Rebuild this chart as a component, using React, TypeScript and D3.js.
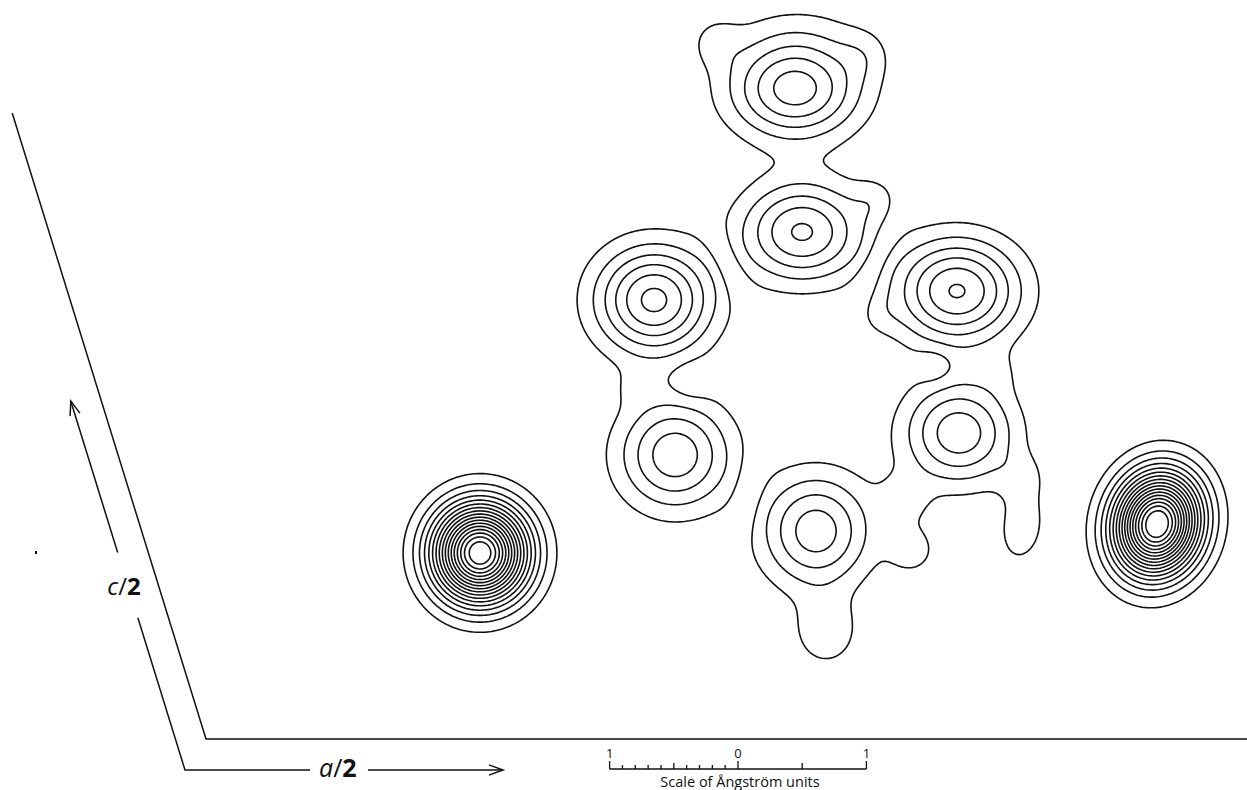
import React, { useMemo } from "react";
import * as d3 from "d3";

const WIDTH = 1247;
const HEIGHT = 790;

// ---------- DATA: electron-density peaks of the projection (Ångström, origin at the axis corner) ----------
const peakNames = [
  "heavy-left", "heavy-right", "top", "upper-middle", "ring-left-upper", "ring-left-lower",
  "ring-right-upper", "ring-right-lower", "ring-bottom",
  "lobe-top-left", "lobe-top", "lobe-top-right", "lobe-upper-right", "lobe-ring-right",
  "tail-1", "tail-2", "protrusion-bottom", "lobe-a", "lobe-b", "neck-left", "neck-right",
  "trough-left-neck", "trough-a", "trough-b", "trough-c", "trough-d",
];
const peakX = [2.134, 7.407, 4.587, 4.642, 3.489, 3.653, 5.849, 5.864, 4.751,
  3.964, 4.626, 5.132, 5.210, 5.249, 6.355, 6.355, 4.829, 5.444, 5.498, 3.318, 6.184,
  3.769, 4.065, 5.210, 4.221, 5.678];
const peakY = [1.449, 1.674, 5.062, 3.949, 3.419, 2.212, 3.489, 2.383, 1.620,
  5.428, 5.522, 5.327, 4.198, 3.302, 2.033, 1.643, 0.833, 1.861, 1.472, 2.734, 2.858,
  2.780, 3.692, 3.715, 1.900, 2.905];
const peakHeight = [18, 18.3, 5.55, 5.15, 6.3, 4.7, 6.1, 4.7, 4.6,
  1.0, 0.6, 0.8, 1.0, 0.6, 1.0, 1.7, 1.8, 1.2, 1.5, 0.5, 0.5,
  -0.7, -1.0, -1.0, -0.9, -0.8];
const peakSigmaX = [0.249, 0.226, 0.350, 0.327, 0.312, 0.304, 0.335, 0.296, 0.296,
  0.140, 0.428, 0.140, 0.125, 0.117, 0.132, 0.125, 0.171, 0.140, 0.132, 0.109, 0.125,
  0.117, 0.296, 0.312, 0.312, 0.101];
const peakSigmaY = [0.257, 0.273, 0.265, 0.265, 0.288, 0.296, 0.280, 0.273, 0.304,
  0.140, 0.195, 0.140, 0.125, 0.117, 0.132, 0.202, 0.187, 0.140, 0.132, 0.109, 0.125,
  0.117, 0.070, 0.070, 0.070, 0.101];
const peakTilt = [0, -14, 0, 0, 0, 0, 0, 0, 0,
  0, 0, 0, 0, 0, 0, -10, 0, 0, 0, 0, 0,
  0, -65, 65, 76, 0];

const contourLevels = [1, 2, 3, 4, 5, 6, 7, 8, 9, 10, 11, 12, 13, 14, 15, 16, 17];

// scale of Ångström units
const scaleLabels = [-1, 0, 1];
const scaleTicks = [-1, -0.9, -0.8, -0.7, -0.6, -0.5, -0.4, -0.3, -0.2, -0.1, 0, 0.5, 1];

// cell (half axes)
const A_HALF = 8.4; // Å (runs off the page)
const C_HALF = 5.104; // Å
const BETA = 107.2; // degrees

// ---------- layout ----------
const PX_PER_A = 128.4;
const ORIGIN_PX = [206, 739];
const xScale = d3.scaleLinear().domain([0, 1]).range([ORIGIN_PX[0], ORIGIN_PX[0] + PX_PER_A]);
const yScale = d3.scaleLinear().domain([0, 1]).range([ORIGIN_PX[1], ORIGIN_PX[1] - PX_PER_A]);
const GRID = { x0: 1.3, x1: 8.5, y0: 0.25, y1: 5.95, step: 0.015 };

function computeContours(): string[] {
  const nx = Math.round((GRID.x1 - GRID.x0) / GRID.step);
  const ny = Math.round((GRID.y1 - GRID.y0) / GRID.step);
  const values = new Float64Array(nx * ny);
  const n = peakX.length;
  for (let p = 0; p < n; p++) {
    const t = (peakTilt[p] * Math.PI) / 180;
    const c = Math.cos(t), s = Math.sin(t);
    const sx = peakSigmaX[p], sy = peakSigmaY[p];
    const reach = 6 * Math.max(sx, sy);
    const iMin = Math.max(0, Math.floor((peakX[p] - reach - GRID.x0) / GRID.step));
    const iMax = Math.min(nx - 1, Math.ceil((peakX[p] + reach - GRID.x0) / GRID.step));
    const jMin = Math.max(0, Math.floor((GRID.y1 - peakY[p] - reach) / GRID.step));
    const jMax = Math.min(ny - 1, Math.ceil((GRID.y1 - peakY[p] + reach) / GRID.step));
    for (let j = jMin; j <= jMax; j++) {
      const Y = GRID.y1 - (j + 0.5) * GRID.step;
      const dy = Y - peakY[p];
      for (let i = iMin; i <= iMax; i++) {
        const X = GRID.x0 + (i + 0.5) * GRID.step;
        const dx = X - peakX[p];
        const u = (dx * c + dy * s) / sx;
        const v = (-dx * s + dy * c) / sy;
        values[j * nx + i] += peakHeight[p] * Math.exp(-0.5 * (u * u + v * v));
      }
    }
  }
  const contours = d3.contours().size([nx, ny]).thresholds(contourLevels)(values as any);
  const projection = d3
    .geoIdentity()
    .scale(GRID.step * PX_PER_A)
    .translate([xScale(GRID.x0), yScale(GRID.y1)]);
  const path = d3.geoPath(projection as any);
  return contours.map((c) => path(c as any) || "");
}

function toPx(p: [number, number]): [number, number] {
  return [xScale(p[0]), yScale(p[1])];
}

function arrowHead(tip: [number, number], dir: [number, number], len = 15, ang = 20) {
  const back = Math.atan2(-dir[1], -dir[0]);
  const a = (ang * Math.PI) / 180;
  const p1 = [tip[0] + len * Math.cos(back + a), tip[1] + len * Math.sin(back + a)];
  const p2 = [tip[0] + len * Math.cos(back - a), tip[1] + len * Math.sin(back - a)];
  return `M${p1[0]},${p1[1]}L${tip[0]},${tip[1]}L${p2[0]},${p2[1]}`;
}

export default function App() {
  const paths = useMemo(() => computeContours(), []);

  const b = (BETA * Math.PI) / 180;
  const cu: [number, number] = [Math.cos(b), Math.sin(b)];
  const origin = toPx([0, 0]);
  const aEnd = toPx([A_HALF, 0]);
  const cEnd = toPx([C_HALF * cu[0], C_HALF * cu[1]]);

  const oc: [number, number] = [-0.1636, -0.2414];
  const alongC = (t: number) => toPx([oc[0] + t * cu[0], oc[1] + t * cu[1]]);
  const alongA = (t: number) => toPx([oc[0] + t, oc[1]]);
  const outerCorner = toPx(oc);
  const cSeg1 = alongC(1.241);
  const cArrowStart = alongC(1.773);
  const cArrowTip = alongC(3.007);
  const aSeg1 = alongA(0.974);
  const aArrowStart = alongA(1.425);
  const aArrowTip = alongA(2.477);
  const cDirPx: [number, number] = [cu[0], -cu[1]];
  const cLabel = alongC(1.5);
  const aLabel = alongA(1.19);

  const sb = d3.scaleLinear().domain([-1, 1]).range([738 - PX_PER_A, 738 + PX_PER_A]);
  const sbY = 769;
  const tickLen = (v: number) => (Math.abs(v) === 1 || v === 0 ? 8 : Math.abs(v) === 0.5 ? 6 : 4);

  return (
    <svg
      width={WIDTH}
      height={HEIGHT}
      style={{ position: "absolute", left: 0, top: 0, background: "#fff" }}
      fontFamily="'Open Sans', 'DejaVu Sans', sans-serif"
    >
      <rect width={WIDTH} height={HEIGHT} fill="#fff" />
      <g fill="none" stroke="#111" strokeWidth={1.6} strokeLinejoin="round">
        {paths.map((d, i) => (
          <path key={i} d={d} />
        ))}
      </g>

      <g fill="none" stroke="#111" strokeWidth={1.5}>
        <path d={`M${cEnd[0]},${cEnd[1]}L${origin[0]},${origin[1]}L${aEnd[0]},${aEnd[1]}`} />
        <path d={`M${cSeg1[0]},${cSeg1[1]}L${outerCorner[0]},${outerCorner[1]}L${aSeg1[0]},${aSeg1[1]}`} />
        <path d={`M${cArrowStart[0]},${cArrowStart[1]}L${cArrowTip[0]},${cArrowTip[1]}`} />
        <path d={arrowHead(cArrowTip, cDirPx)} />
        <path d={`M${aArrowStart[0]},${aArrowStart[1]}L${aArrowTip[0]},${aArrowTip[1]}`} />
        <path d={arrowHead(aArrowTip, [1, 0])} />
      </g>
      <text x={cLabel[0] - 4} y={cLabel[1] + 9} fontSize={24} textAnchor="middle" fill="#111">
        <tspan fontStyle="italic">c</tspan>
        <tspan>/</tspan>
        <tspan fontWeight="bold">2</tspan>
      </text>
      <text x={aLabel[0]} y={aLabel[1] + 7} fontSize={25} textAnchor="middle" fill="#111">
        <tspan fontStyle="italic">a</tspan>
        <tspan>/</tspan>
        <tspan fontWeight="bold">2</tspan>
      </text>
      <rect x={35} y={551} width={2} height={3} fill="#111" />

      <g stroke="#111" strokeWidth={1.3} fill="none">
        <line x1={sb(-1)} x2={sb(1)} y1={sbY} y2={sbY} />
        {scaleTicks.map((v) => (
          <line key={v} x1={sb(v)} x2={sb(v)} y1={sbY} y2={sbY - tickLen(v)} />
        ))}
      </g>
      {scaleLabels.map((v) => (
        <text key={v} x={sb(v)} y={sbY - 11} fontSize={13} textAnchor="middle" fill="#111">
          {Math.abs(v)}
        </text>
      ))}
      <text x={740} y={787} fontSize={14.5} textAnchor="middle" fill="#111">
        Scale of Ångström units
      </text>
    </svg>
  );
}
